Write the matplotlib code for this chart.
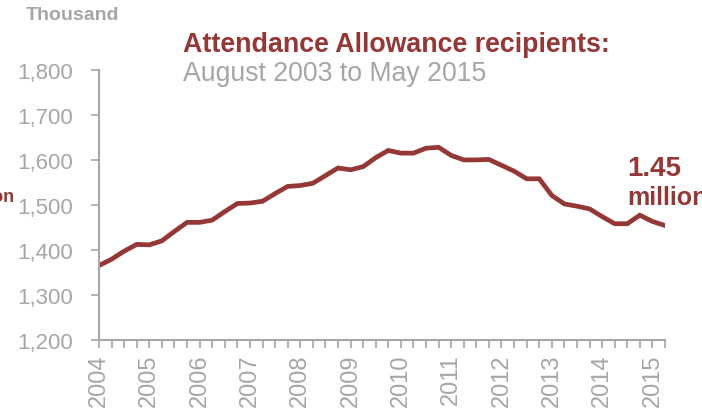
import matplotlib
matplotlib.use('Agg')
import matplotlib.pyplot as plt
from matplotlib.ticker import MultipleLocator, FuncFormatter

# quarterly recipients, thousands
recipients = [1365, 1379, 1397, 1412, 1411, 1420, 1441, 1461, 1461, 1466,
              1485, 1503, 1504, 1508, 1525, 1541, 1543, 1548, 1565, 1582,
              1578, 1585, 1605, 1621, 1615, 1615, 1626, 1628, 1610, 1600,
              1600, 1601, 1588, 1575, 1558, 1558, 1521, 1502, 1497, 1491,
              1474, 1458, 1458, 1477, 1463, 1454]
year_labels = ['2004', '2005', '2006', '2007', '2008', '2009', '2010',
               '2011', '2012', '2013', '2014', '2015']

RED = '#953735'
GREY = '#A6A6A6'
W, H = 702, 414

plt.rcParams['font.family'] = ['Liberation Sans', 'DejaVu Sans']

fig = plt.figure(figsize=(W / 100, H / 100), dpi=100, facecolor='w')
ax = fig.add_axes([99 / W, 1 - 340.7 / H, (665 - 99) / W, (340.7 - 71) / H])

x = list(range(len(recipients)))
ax.plot(x, recipients, color=RED, linewidth=3.4, solid_joinstyle='miter')

ax.set_xlim(0, len(recipients) - 1)
ax.set_ylim(1200, 1800)
ax.yaxis.set_major_locator(MultipleLocator(100))
ax.yaxis.set_major_formatter(FuncFormatter(lambda v, p: '{:,.0f}'.format(v)))
ax.set_xticks(range(0, len(recipients)))
ax.set_xticklabels([year_labels[i // 4] if i % 4 == 0 else '' for i in x],
                   rotation=90)

for s in ['top', 'right']:
    ax.spines[s].set_visible(False)
for s in ['left', 'bottom']:
    ax.spines[s].set_color(GREY)
    ax.spines[s].set_linewidth(1.5)
ax.tick_params(axis='both', colors=GREY, length=5.8, width=1.2, direction='out')
ax.tick_params(axis='y', labelsize=16, pad=13)
ax.tick_params(axis='x', labelsize=17, pad=4)

def px(xp, yp):
    return xp / W, 1 - yp / H

fig.text(*px(26, 16), 'Thousand', color=GREY, fontsize=14, fontweight='bold',
         va='center', ha='left')
fig.text(*px(183, 45), 'Attendance Allowance recipients:', color=RED,
         fontsize=19.3, fontweight='bold', va='center', ha='left')
fig.text(*px(183, 74), 'August 2003 to May 2015', color=GREY, fontsize=19.2,
         va='center', ha='left')
fig.text(*px(627, 169), '1.45', color=RED, fontsize=20, fontweight='bold',
         va='center', ha='left')
fig.text(*px(627, 198), 'million', color=RED, fontsize=18, fontweight='bold',
         va='center', ha='left')
# label of a neighbouring panel, cut off at the left edge as in the source
fig.text(*px(15, 198), 'million', color=RED, fontsize=13, fontweight='bold',
         va='center', ha='right')

fig.savefig('out.png', dpi=100)
plt.close()
